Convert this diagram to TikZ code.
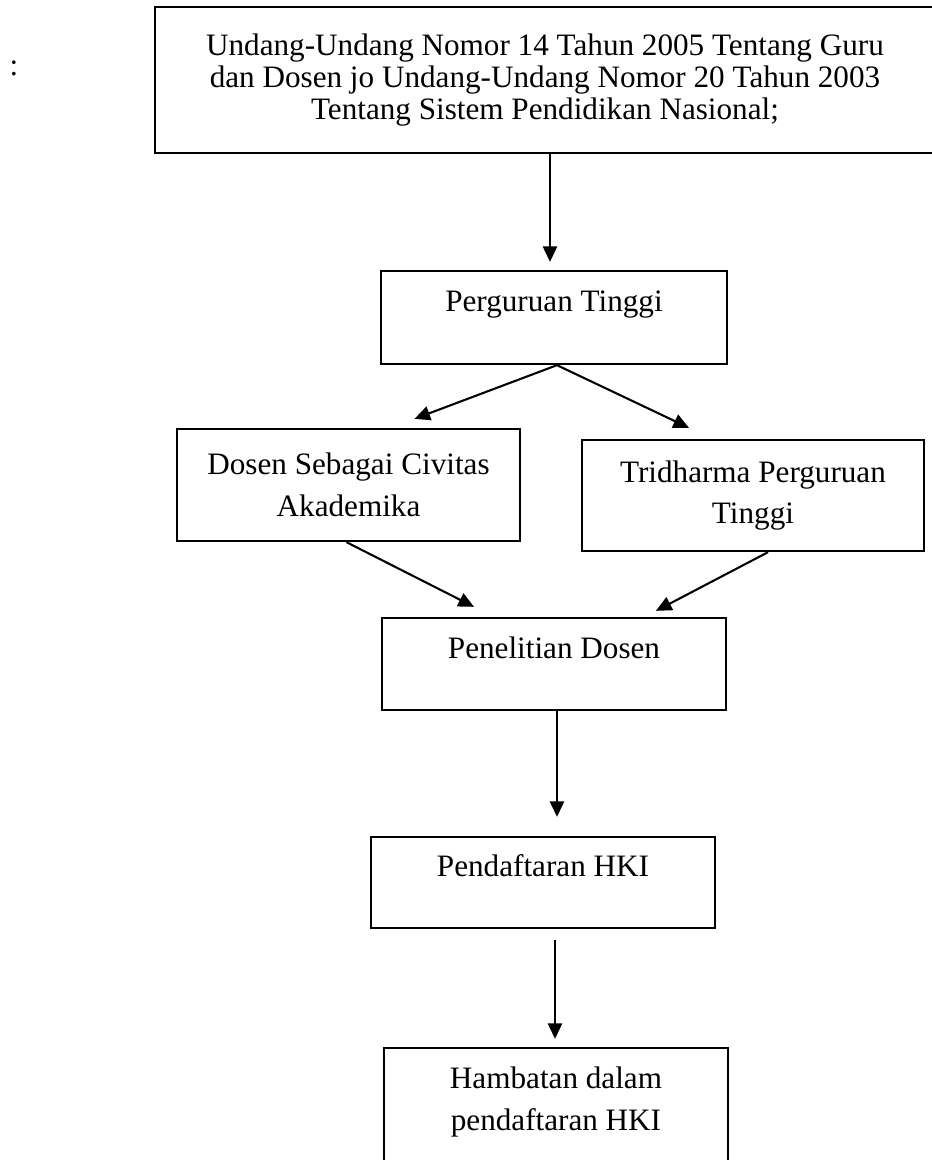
\documentclass[tikz,border=0pt]{standalone}
\usepackage{fontspec}
\setmainfont{Liberation Serif}
\usetikzlibrary{calc, positioning}
\usetikzlibrary{arrows.meta}
\def\pxunit{0.385pt}
\tikzset{
    border/.style = {
        draw, rectangle, line width=0.9pt, align=center, inner sep=0pt
    },
    oneline/.style = {
        border, text height=8pt, text depth=12.5pt
    },
    flow/.style = {
        line width=0.8pt, -{Triangle[width=5.5pt,length=6pt]}
    }
}

\begin{document}
\begin{tikzpicture}[x=\pxunit, y=-\pxunit, every node/.style={font=\fontsize{12}{16}\selectfont}]
        \useasboundingbox (0,0) rectangle (932,1160);
        % Place the blocks
        \node (colon) at (14,68) {:};
        \node[border, minimum width=780*\pxunit, minimum height=146*\pxunit, font=\fontsize{12}{12.4}\selectfont] (law) at (545,80) {Undang-Undang Nomor 14 Tahun 2005 Tentang Guru\\ dan Dosen jo Undang-Undang Nomor 20 Tahun 2003\\ Tentang Sistem Pendidikan Nasional;};
        \node[oneline, minimum width=346*\pxunit, minimum height=93*\pxunit] (per) at (554,317.5) {Perguruan Tinggi};
        \node[border, minimum width=343*\pxunit, minimum height=112*\pxunit] (dosen) at (348.5,485) {Dosen Sebagai Civitas\\ Akademika};
        \node[border, minimum width=342*\pxunit, minimum height=111*\pxunit] (tri) at (753,495.5) {Tridharma Perguruan\\ Tinggi};
        \node[oneline, minimum width=344*\pxunit, minimum height=92*\pxunit] (pen) at (554,664) {Penelitian Dosen};
        \node[oneline, minimum width=344*\pxunit, minimum height=91*\pxunit] (hki) at (543,882.5) {Pendaftaran HKI};
        \node[border, text depth=6.5pt, minimum width=344*\pxunit, minimum height=118*\pxunit] (hamb) at (556,1107) {Hambatan dalam\\ pendaftaran HKI};

        % Connect the blocks
        \draw[flow] ($(law.south)+(5,0)$) -- ($(per.north)+(-4,-8)$);
        \draw[flow] ($(per.south)+(3,0)$) -- ($(dosen.north)+(66,-9)$);
        \draw[flow] ($(per.south)+(3,0)$) -- ($(tri.north)+(-64,-11)$);
        \draw[flow] ($(dosen.south)+(-2,0)$) -- ($(pen.north)+(-80,-10)$);
        \draw[flow] ($(tri.south)+(15,0)$) -- ($(pen.north)+(102,-6)$);
        \draw[flow] ($(pen.south)+(3,0)$) -- ($(hki.north)+(14,-19)$);
        \draw[flow] ($(hki.south)+(12,11)$) -- ($(hamb.north)+(-1,-8)$);
    \end{tikzpicture}
\end{document}
